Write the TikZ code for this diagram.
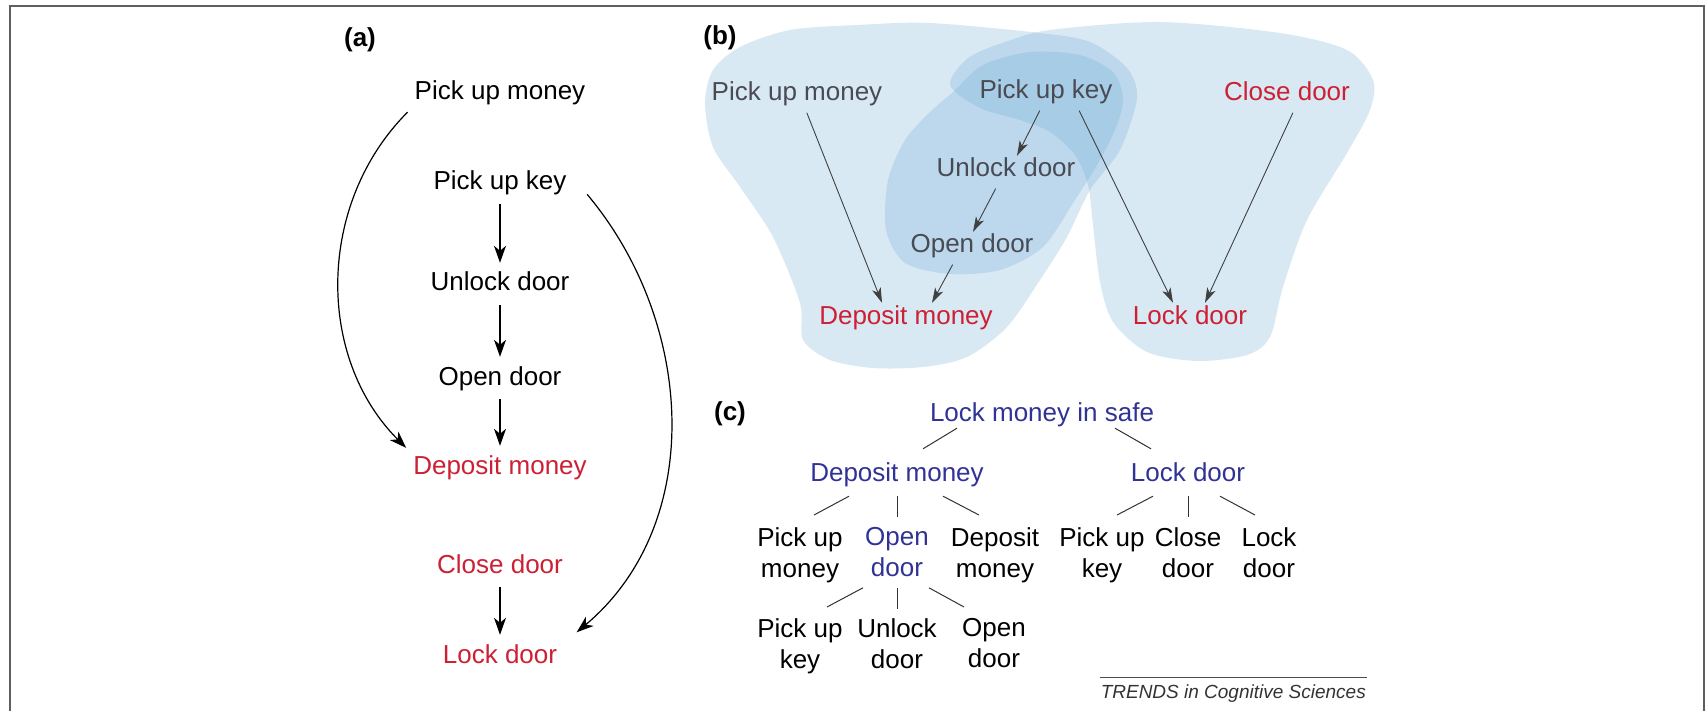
\documentclass[tikz,border=0pt]{standalone}
\usepackage{fontspec}
\setmainfont{Liberation Sans}
\usetikzlibrary{positioning,arrows.meta}
\definecolor{goalred}{RGB}{204,32,52}
\definecolor{chunkblue}{RGB}{97,163,209}
\definecolor{treeblue}{RGB}{48,50,150}
\definecolor{softblack}{RGB}{72,74,84}
\definecolor{framegray}{RGB}{95,95,95}
\tikzset{
    act/.style = {
        font=\fontsize{26}{31}\selectfont,
        text height=19pt,
        text depth=5pt,
        inner sep=2pt,
        },
    goal/.style = {
        text = goalred,
        },
    faded/.style = {
        text = softblack,
        },
    sub/.style = {
        text = treeblue,
        },
    two line/.style = {
        font=\fontsize{26}{31}\selectfont,
        align=center,
        inner sep=2pt,
        anchor=north,
        },
    panel/.style = {
        font=\fontsize{26}{31}\selectfont\bfseries,
        },
    trend/.style = {
        font=\fontsize{19}{22}\selectfont\itshape,
        text = black!80,
        inner xsep=1pt,
        inner ysep=8pt,
        },
    flow/.style = {
        draw,
        line width=1.2pt,
        -{Stealth[length=17pt,width=12pt,inset=5pt]},
        shorten <=7pt,
        shorten >=7pt,
        },
    flow b/.style = {
        draw=black!75,
        line width=0.9pt,
        -{Stealth[length=15pt,width=9pt,inset=4pt]},
        shorten <=5pt,
        },
    branch/.style = {
        draw=black!80,
        line width=1pt,
        },
    chunk/.style = {
        fill = chunkblue,
        fill opacity = 0.24,
        },
    rule/.style = {
        draw=black!70,
        line width=0.8pt,
        },
}

\begin{document}
\begin{tikzpicture}[x=1pt, y=-1pt, on grid]
    \useasboundingbox (0,0) rectangle (1708,711);
    \draw[framegray, line width=1.6pt] (10,711) -- (10,6) -- (1704,6) -- (1704,711);

    % (a) plan as a chain of steps
    \node[panel] (labA) at (360,40) {(a)};
    \node[act] (PMa) at (500,93) {Pick up money};
    \node[act, below=90pt of PMa] (PKa) {Pick up key};
    \node[act, below=101pt of PKa] (UDa) {Unlock door};
    \node[act, below=94pt of UDa] (ODa) {Open door};
    \node[act, goal, below=89pt of ODa] (DMa) {Deposit money};
    \node[act, goal, below=99pt of DMa] (CDa) {Close door};
    \node[act, goal, below=90pt of CDa] (LDa) {Lock door};

    \path (PKa) edge[flow] (UDa);
    \path (UDa) edge[flow] (ODa);
    \path (ODa) edge[flow] (DMa);
    \path (CDa) edge[flow] (LDa);
    \path (PMa.south west) edge[flow, out=225, in=135] (DMa.north west);
    \path ([shift={(14,6)}]PKa.east) edge[flow, out=-50, in=40] ([shift={(12,-5)}]LDa.north east);

    % (b) chunks
    \fill[chunk] plot[smooth cycle] coordinates {
        (713,147) (705,103) (713,70) (740,47) (790,30) (857,25) (930,23)
        (1040,33) (1090,42) (1127,68) (1137,98) (1120,150) (1090,190)
        (1067,237) (1040,280) (1007,327) (967,357) (923,367) (873,368)
        (830,360) (803,340) (800,303) (773,237) (740,187)};
    \fill[chunk] plot[smooth cycle] coordinates {
        (950,85) (968,58) (1005,42) (1050,30) (1160,22) (1280,33) (1347,50)
        (1373,80) (1370,110) (1347,153) (1307,220) (1283,287) (1270,337)
        (1247,355) (1197,361) (1147,352) (1113,322) (1100,282) (1093,225)
        (1088,185) (1075,155) (1050,132) (1020,120) (980,108)};
    \fill[chunk] plot[smooth cycle] coordinates {
        (1030,52) (1080,55) (1113,72) (1123,98) (1117,125) (1100,160)
        (1075,200) (1043,247) (1000,270) (950,274) (905,263) (886,230)
        (888,180) (905,140) (930,112) (953,92) (983,65)};

    \node[panel] (labB) at (720,38) {(b)};
    \node[act, faded] (PMb) at (797,94) {Pick up money};
    \node[act, faded] (PKb) at (1046,92) {Pick up key};
    \node[act, goal] (CDb) at (1287,94) {Close door};
    \node[act, faded] (UDb) at (1006,170) {Unlock door};
    \node[act, faded] (ODb) at (972,246) {Open door};
    \node[act, goal] (DMb) at (906,317) {Deposit money};
    \node[act, goal] (LDb) at (1190,317) {Lock door};

    \path ([shift={(8,0)}]PMb.south) edge[flow b] ([shift={(-24,0)}]DMb.north);
    \path ([shift={(-17,0)}]ODb.south) edge[flow b] ([shift={(26,0)}]DMb.north);
    \path ([shift={(-4,0)}]PKb.south) edge[flow b] ([shift={(11,0)}]UDb.north);
    \path ([shift={(-8,0)}]UDb.south) edge[flow b] ([shift={(1,0)}]ODb.north);
    \path ([shift={(31,0)}]PKb.south) edge[flow b] ([shift={(-17,0)}]LDb.north);
    \path ([shift={(8,0)}]CDb.south) edge[flow b] ([shift={(15,0)}]LDb.north);

    % (c) goal tree
    \node[panel] (labC) at (730,414) {(c)};
    \node[act, sub] (root) at (1042,414) {Lock money in safe};
    \node[act, sub, below left=60pt and 145pt of root] (depC) {Deposit money};
    \node[act, sub, below right=60pt and 146pt of root] (lockC) {Lock door};

    \node[two line] (PMc) at (800,525) {Pick up\\money};
    \node[two line, sub] (ODc) at (897,525) {Open\\door};
    \node[two line] (DPc) at (995,525) {Deposit\\money};
    \node[two line] (PKc) at (1102,525) {Pick up\\key};
    \node[two line] (CDc) at (1188,525) {Close\\door};
    \node[two line] (LDc) at (1269,525) {Lock\\door};

    \node[two line] (PK2c) at (800,616) {Pick up\\key};
    \node[two line] (UD2c) at (897,616) {Unlock\\door};
    \node[two line] (OD2c) at (994,616) {Open\\door};

    \path ([shift={(-85,0)}]root.south) edge[branch] ([shift={(26,-11)}]depC.north);
    \path ([shift={(73,0)}]root.south) edge[branch] ([shift={(-37,-11)}]lockC.north);
    \path ([shift={(-48,8)}]depC.south) edge[branch] ([shift={(14,-10)}]PMc.north);
    \path ([shift={(0,8)}]depC.south) edge[branch] ([shift={(0,-8)}]ODc.north);
    \path ([shift={(46,8)}]depC.south) edge[branch] ([shift={(-16,-10)}]DPc.north);
    \path ([shift={(-35,8)}]lockC.south) edge[branch] ([shift={(15,-10)}]PKc.north);
    \path ([shift={(0,8)}]lockC.south) edge[branch] ([shift={(0,-8)}]CDc.north);
    \path ([shift={(32,8)}]lockC.south) edge[branch] ([shift={(-14,-10)}]LDc.north);
    \path ([shift={(-34,9)}]ODc.south) edge[branch] ([shift={(27,-9)}]PK2c.north);
    \path ([shift={(0,9)}]ODc.south) edge[branch] ([shift={(0,-7)}]UD2c.north);
    \path ([shift={(32,9)}]ODc.south) edge[branch] ([shift={(-30,-9)}]OD2c.north);

    \node[trend, anchor=east] (trend) at (1367,694) {TRENDS in Cognitive Sciences};
    \path (trend.north west) edge[rule] (trend.north east);
\end{tikzpicture}
\end{document}
